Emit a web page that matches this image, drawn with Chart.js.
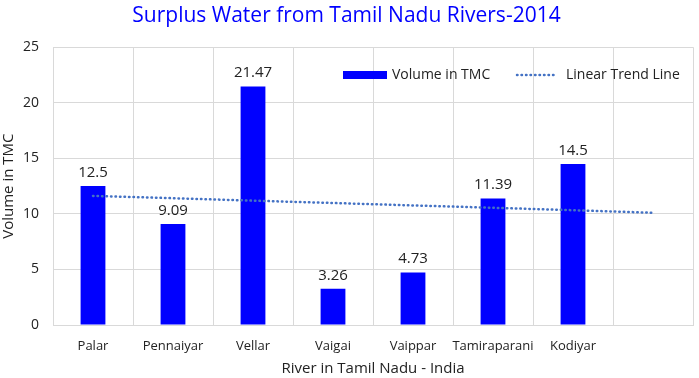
<!DOCTYPE html>
<html lang="en">
<head>
    <meta charset="UTF-8">
    <title>Surplus Water from Tamil Nadu Rivers-2014</title>
    <script src="https://cdn.jsdelivr.net/npm/chart.js"></script>
    <style>
        html, body { margin: 0; padding: 0; background: #ffffff; }
        .wrap { width: 699px; height: 378px; }
    </style>
</head>
<body>
    <div class="wrap">
        <canvas id="riverChart" width="699" height="378"></canvas>
    </div>

    <script>
        // data
        const rivers = ['Palar', 'Pennaiyar', 'Vellar', 'Vaigai', 'Vaippar', 'Tamiraparani', 'Kodiyar', ''];
        const volumes = [12.5, 9.09, 21.47, 3.26, 4.73, 11.39, 14.5, null];
        const trendLine = [11.62, 11.41, 11.19, 10.98, 10.76, 10.55, 10.33, 10.1];
        const yTicks = [0, 5, 10, 15, 20, 25];

        const fontName = '"Open Sans", "Noto Sans", sans-serif';

        // value labels above bars
        const barLabels = {
            id: 'barLabels',
            afterDatasetsDraw(chart) {
                const ctx = chart.ctx;
                const meta = chart.getDatasetMeta(0);
                ctx.save();
                ctx.font = '15px ' + fontName;
                ctx.fillStyle = '#222';
                ctx.textAlign = 'center';
                ctx.textBaseline = 'bottom';
                meta.data.forEach((bar, i) => {
                    if (volumes[i] == null) return;
                    ctx.fillText(String(volumes[i]), bar.x, bar.y - 6);
                });
                ctx.restore();
            }
        };

        // legend sits inside the plot, top right (no background, grid shows through)
        const insideLegend = {
            id: 'insideLegend',
            afterDraw(chart) {
                const ctx = chart.ctx;
                ctx.save();
                ctx.fillStyle = '#0000ff';
                ctx.fillRect(343, 71, 44, 8);
                ctx.font = '14px ' + fontName;
                ctx.fillStyle = '#222';
                ctx.textBaseline = 'middle';
                ctx.fillText('Volume in TMC', 392, 75);
                ctx.strokeStyle = '#4472c4';
                ctx.lineWidth = 2.5;
                ctx.lineCap = 'round';
                ctx.setLineDash([0.5, 4]);
                ctx.beginPath();
                ctx.moveTo(517, 75);
                ctx.lineTo(557, 75);
                ctx.stroke();
                ctx.setLineDash([]);
                ctx.fillText('Linear Trend Line', 566, 75);
                ctx.restore();
            }
        };

        const ctx = document.getElementById('riverChart').getContext('2d');
        const riverChart = new Chart(ctx, {
            type: 'bar',
            data: {
                labels: rivers,
                datasets: [{
                    label: 'Volume in TMC',
                    data: volumes,
                    backgroundColor: '#0000ff',
                    barPercentage: 0.31,
                    categoryPercentage: 1,
                    order: 2
                }, {
                    type: 'line',
                    label: 'Linear Trend Line',
                    data: trendLine,
                    borderColor: '#4472c4',
                    borderWidth: 2.5,
                    borderDash: [0.5, 4],
                    borderCapStyle: 'round',
                    pointRadius: 0,
                    fill: false,
                    tension: 0,
                    order: 1
                }]
            },
            options: {
                responsive: false,
                animation: false,
                layout: { padding: { left: 0, right: 6, top: 0, bottom: 0 } },
                plugins: {
                    legend: { display: false },
                    tooltip: { enabled: false },
                    title: {
                        display: true,
                        text: 'Surplus Water from Tamil Nadu Rivers-2014',
                        color: '#0000ff',
                        font: { family: fontName, size: 21, weight: 'normal' },
                        padding: { top: 3, bottom: 19 }
                    }
                },
                scales: {
                    x: {
                        offset: true,
                        afterFit(axis) { axis.height = 53; },
                        grid: { offset: true, color: '#d9d9d9', drawTicks: false },
                        border: { color: '#d9d9d9' },
                        ticks: { color: '#222', font: { family: fontName, size: 13 }, padding: 13, maxRotation: 0, autoSkip: false },
                        title: {
                            display: true,
                            text: 'River in Tamil Nadu - India',
                            color: '#222',
                            font: { family: fontName, size: 15 },
                            padding: { top: 0, bottom: 0 }
                        }
                    },
                    y: {
                        min: 0,
                        max: 25,
                        afterFit(axis) { axis.width = 53; },
                        afterBuildTicks(axis) { axis.ticks = yTicks.map(v => ({ value: v })); },
                        grid: { color: '#d9d9d9', drawTicks: false },
                        border: { display: false },
                        ticks: { color: '#222', font: { family: fontName, size: 14 }, padding: 14 },
                        title: {
                            display: true,
                            text: 'Volume in TMC',
                            color: '#222',
                            font: { family: fontName, size: 15 },
                            padding: { top: 0, bottom: 0 }
                        }
                    }
                }
            },
            plugins: [barLabels, insideLegend]
        });
    </script>
</body>
</html>
